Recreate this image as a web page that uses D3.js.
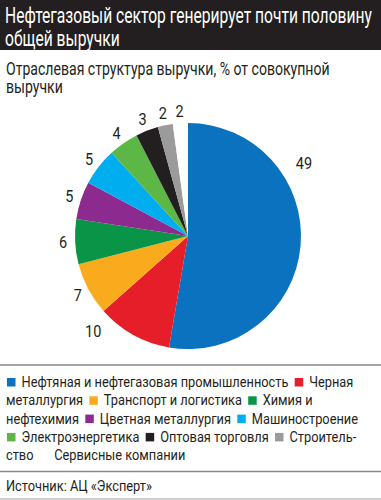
<!DOCTYPE html>
<html><head><meta charset="utf-8">
<script src="https://cdn.jsdelivr.net/npm/d3@7"></script>
<style>
body{margin:0;background:#fff}
svg{display:block}
text{font-family:Roboto,"Liberation Sans",sans-serif}
</style>
</head><body><div id="chart"></div>
<script>
// ---- data ----
const categories = ["Нефтяная и нефтегазовая промышленность","Черная металлургия","Транспорт и логистика","Химия и нефтехимия","Цветная металлургия","Машиностроение","Электроэнергетика","Оптовая торговля","Строитель\u00ADство","Сервисные компании"];
const values = [49,10,7,6,5,5,4,3,2,2];
const colors = ["#0a72bf","#e61e2a","#f9ab1d","#0a9448","#8d2a8f","#00adee","#5cb747","#231f20","#9b9b9b","#ffffff"];
const titleLines = ["Нефтегазовый сектор генерирует почти половину","общей выручки"];
const subtitleLines = ["Отраслевая структура выручки, % от совокупной","выручки"];
const sourceText = "Источник: АЦ «Эксперт»";

// ---- layout ----
const W = 381, H = 500;
const cx = 188, cy = 236, R = 113, labelR = 125;
const labelNudge = {0:{da:-37,dr:12}, 1:{da:16,dr:9}};

const svg = d3.select("#chart").append("svg").attr("width",W).attr("height",H);
const meas = svg.append("text").attr("visibility","hidden");
const mw = (s,fs) => { meas.attr("font-size",fs).text(s); return meas.node().getComputedTextLength(); };

// condensed text helper: scale horizontally
function ctext(parent, str, x, y, fs, sx, fill, anchor){
  return parent.append("text").attr("font-size",fs).attr("fill",fill||"#231f20")
    .attr("text-anchor",anchor||"start")
    .attr("transform",`translate(${x},${y}) scale(${sx},1)`).text(str);
}

// title bar
svg.append("rect").attr("x",0).attr("y",0).attr("width",W).attr("height",50).attr("fill","#231f20");
const titleFS = 22.5;
const titleSX = 367 / mw(titleLines[0], titleFS);
titleLines.forEach((t,i)=> ctext(svg, t, 5, 23+i*23, titleFS, titleSX, "#fff"));

const subFS = 18;
const subSX = 324 / mw(subtitleLines[0], subFS);
subtitleLines.forEach((t,i)=> ctext(svg, t, 6, 75+i*18, subFS, subSX));

// pie
const data = categories.map((c,i)=>({name:c, value:values[i], color:colors[i], i}));
const pie = d3.pie().sort(null).value(d=>d.value).startAngle(0).endAngle(2*Math.PI);
const arcs = pie(data);
const arc = d3.arc().innerRadius(0).outerRadius(R);
const g = svg.append("g").attr("transform",`translate(${cx},${cy})`);
g.selectAll("path").data(arcs).join("path").attr("d",arc).attr("fill",d=>d.data.color);

const lblFS = 17, lblSX = 0.85;
arcs.forEach(d=>{
  const n = labelNudge[d.index]||{da:0,dr:0};
  const a = (d.startAngle+d.endAngle)/2 + n.da*Math.PI/180;
  const r = labelR + n.dr;
  ctext(g, d.data.value, r*Math.sin(a), -r*Math.cos(a), lblFS, lblSX, "#231f20", "middle")
    .attr("dominant-baseline","central");
});

// rules
svg.append("line").attr("x1",0).attr("x2",W).attr("y1",365).attr("y2",365).attr("stroke","#8a8a8a").attr("stroke-width",1.5);
svg.append("line").attr("x1",0).attr("x2",W).attr("y1",471.5).attr("y2",471.5).attr("stroke","#8a8a8a").attr("stroke-width",1.5);
svg.append("line").attr("x1",0).attr("x2",W).attr("y1",499).attr("y2",499).attr("stroke","#cfcfcf").attr("stroke-width",2);

// legend (flowing text)
const legFS = 15.5;
const legSX = 267 / mw(categories[0], legFS);
const lw = s => mw(s, legFS)*legSX;
const lg = svg.append("g");
const left = 6, right = 372, lineH = 18.3, y0 = 387;
let x = left, line = 0;
const spaceW = lw("a a") - lw("aa");
const sq = 8.5, sqGap = 6;
const placeWord = w => ctext(lg, w, x, y0+line*lineH, legFS, legSX);
const placeMarker = c => {
  lg.append("rect").attr("x",x+1).attr("y",y0+line*lineH-sq-0.5).attr("width",sq).attr("height",sq).attr("fill",c);
  x += sq+sqGap+1;
};
data.forEach(d=>{
  const words = d.name.split(" ");
  let first = true;
  words.forEach(w=>{
    const clean = w.replace("\u00AD","");
    const need = (first? sq+sqGap+1 : 0) + lw(clean);
    if (x + need > right && x > left) {
      if (w.includes("\u00AD")) {
        const [a,b] = w.split("\u00AD");
        const needA = (first? sq+sqGap+1:0) + lw(a+"-");
        if (x + needA <= right) {
          if (first){ placeMarker(d.color); first=false; }
          placeWord(a+"-"); line++; x = left; placeWord(b); x += lw(b)+spaceW; return;
        }
      }
      line++; x = left;
    }
    if (first){ placeMarker(d.color); first=false; }
    placeWord(clean);
    x += lw(clean) + spaceW;
  });
  x += 2;
});

const srcFS = 15.5;
ctext(svg, sourceText, 6, 491, srcFS, 146 / mw(sourceText, srcFS));
meas.remove();
</script>
</body></html>
